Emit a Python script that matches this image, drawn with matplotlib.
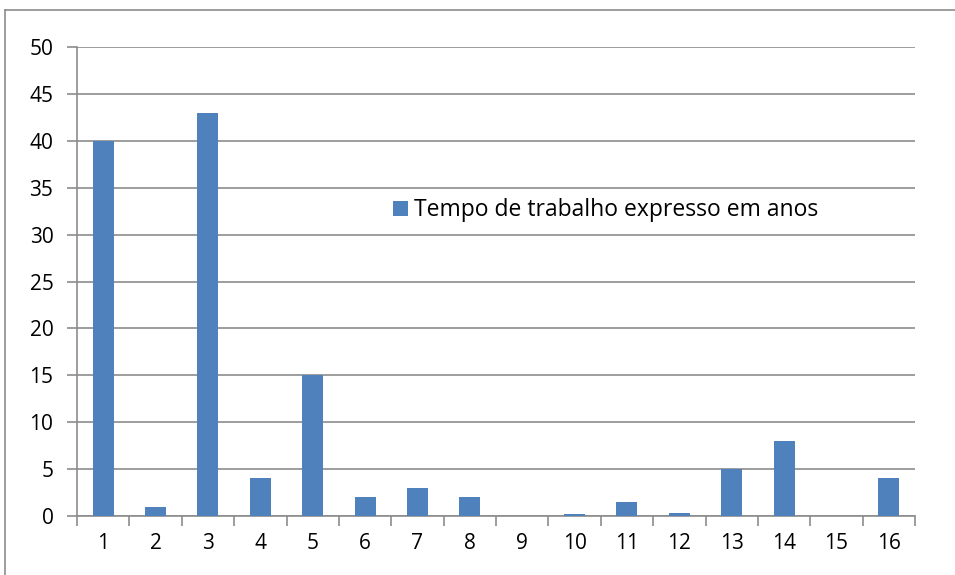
import matplotlib
matplotlib.use("Agg")
import matplotlib.pyplot as plt
from matplotlib.lines import Line2D
from matplotlib.patches import Patch

# data
categories = [str(i) for i in range(1, 17)]
values = [40, 1, 43, 4, 15, 2, 3, 2, 0, 0.2, 1.5, 0.3, 5, 8, 0, 4]
series_name = "Tempo de trabalho expresso em anos"
yticks = list(range(0, 51, 5))

bar_color = "#4F81BD"
grid_color = "#8C8C8C"

plt.rcParams["font.family"] = ["Open Sans", "DejaVu Sans"]

fig = plt.figure(figsize=(9.55, 5.75), dpi=100)
ax = fig.add_axes([77 / 955, 1 - 516 / 575, (915 - 77) / 955, (516 - 47) / 575])

x = list(range(len(categories)))
ax.bar(x, values, width=0.4, color=bar_color, zorder=3)

ax.set_xlim(-0.5, len(categories) - 0.5)
ax.set_ylim(0, 50)
ax.set_yticks(yticks)
ax.set_yticklabels([str(t) for t in yticks], fontsize=15)
ax.yaxis.grid(True, color=grid_color, linewidth=1.2, zorder=0)

ax.set_xticks(x)
ax.set_xticklabels(categories, fontsize=15)
ax.tick_params(axis="x", length=0, pad=12)
ax.set_xticks([i - 0.5 for i in range(len(categories) + 1)], minor=True)
ax.tick_params(axis="x", which="minor", length=7, width=1.2, color=grid_color, direction="out")
ax.tick_params(axis="y", length=7, width=1.2, color=grid_color, direction="out", pad=10)

for s in ["top", "right"]:
    ax.spines[s].set_visible(False)
for s in ["left", "bottom"]:
    ax.spines[s].set_color(grid_color)
    ax.spines[s].set_linewidth(1.2)

handle = Patch(facecolor=bar_color, edgecolor="none")
ax.legend([handle], [series_name], loc="center left", bbox_to_anchor=(0.377, 0.652),
          frameon=False, fontsize=16.5, handlelength=0.65, handleheight=0.65,
          handletextpad=0.25, borderaxespad=0, borderpad=0)

# outer chart frame (left and top edges visible)
fig.add_artist(Line2D([5 / 955, 5 / 955], [0, 1 - 10 / 575], color=grid_color, lw=1.2))
fig.add_artist(Line2D([5 / 955, 1], [1 - 10 / 575, 1 - 10 / 575], color=grid_color, lw=1.2))

fig.savefig("out.png", dpi=100)
